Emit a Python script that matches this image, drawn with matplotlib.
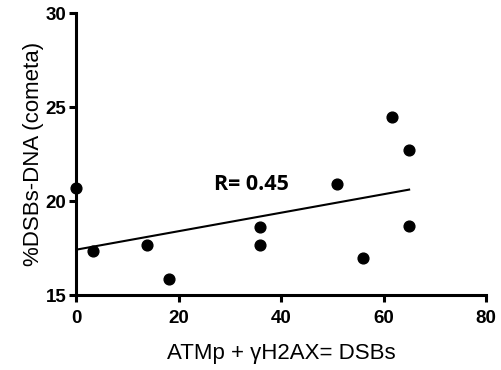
import numpy as np
import matplotlib
matplotlib.use("Agg")
import matplotlib.pyplot as plt

x_vals = [0, 3.3, 13.9, 18.1, 35.9, 35.9, 50.9, 56.0, 61.7, 65.0, 65.0]
y_vals = [20.7, 17.35, 17.65, 15.85, 18.6, 17.65, 20.9, 16.95, 24.45, 22.7, 18.65]
x_ticks = [0, 20, 40, 60, 80]
y_ticks = [15, 20, 25, 30]

fig = plt.figure(figsize=(5.02, 3.70), dpi=100)
ax = fig.add_axes([76/502, 75/370, 410/502, 282/370])

ax.scatter(x_vals, y_vals, s=60, color='black', zorder=3, clip_on=False)
slope, intercept = np.polyfit(x_vals, y_vals, 1)
xs = np.array([min(x_vals), max(x_vals)])
ax.plot(xs, slope*xs + intercept, color='black', lw=1.5)

ax.set_xlim(0, 80)
ax.set_ylim(15, 30)
ax.set_xticks(x_ticks)
ax.set_yticks(y_ticks)
for s in ['top', 'right']:
    ax.spines[s].set_visible(False)
for s in ['left', 'bottom']:
    ax.spines[s].set_linewidth(2.2)
ax.tick_params(width=2.2, length=5, direction='out', labelsize=13.5)
ax.tick_params(axis='x', pad=6)
ax.tick_params(axis='y', pad=2)
for lab in ax.get_xticklabels() + ax.get_yticklabels():
    lab.set_fontfamily('Liberation Sans')
    lab.set_fontweight('bold')
ax.set_xlabel('ATMp + γH2AX= DSBs', fontsize=16, family='Liberation Sans', labelpad=11)
ax.set_ylabel('%DSBs-DNA (cometa)', fontsize=16, family='Liberation Sans', labelpad=1)
ax.text(27, 20.6, 'R= 0.45', fontsize=15.5, fontweight='bold', family='Open Sans')

fig.savefig('out.png', dpi=100)
